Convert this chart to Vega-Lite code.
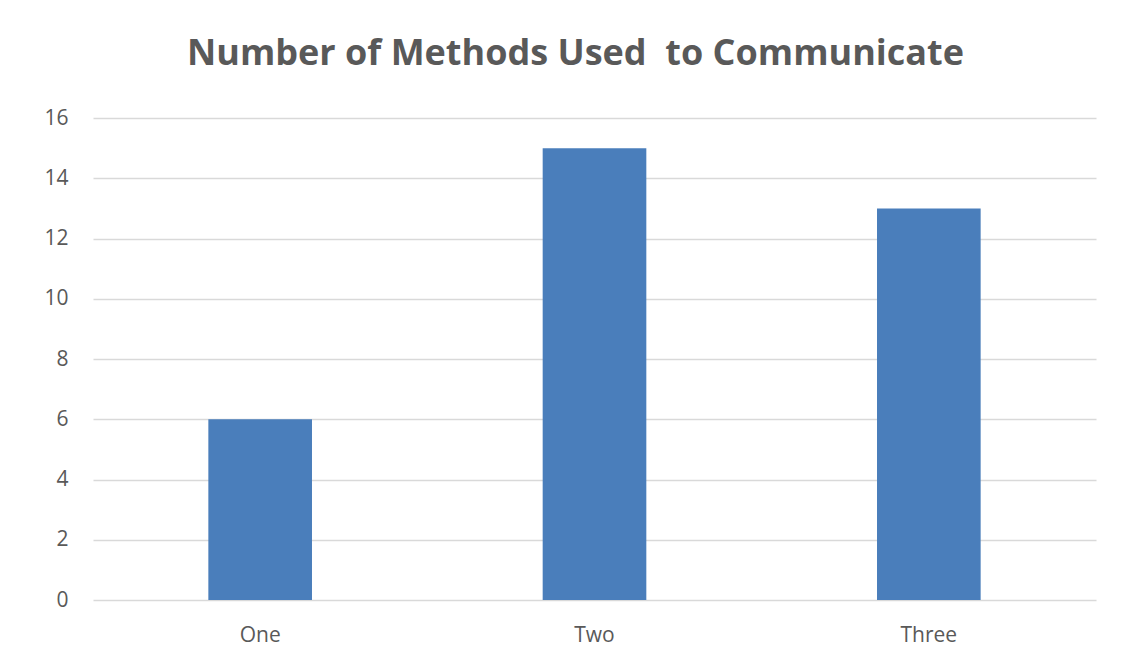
{
  "$schema": "https://vega.github.io/schema/vega-lite/v6.json",
  "width": 1003,
  "height": 482,
  "autosize": {"type": "none"},
  "padding": {"left": 93, "top": 118, "right": 44, "bottom": 65},
  "background": "white",
  "title": {
    "text": "Number of Methods Used \u00a0to Communicate",
    "font": "Open Sans",
    "fontSize": 36,
    "fontWeight": "bold",
    "color": "#595959",
    "anchor": "middle",
    "dx": -19,
    "offset": 34
  },
  "data": {
    "values": [
      {"category": "One", "count": 6},
      {"category": "Two", "count": 15},
      {"category": "Three", "count": 13}
    ]
  },
  "mark": {"type": "bar", "color": "#4a7ebb"},
  "encoding": {
    "x": {
      "field": "category",
      "type": "nominal",
      "sort": ["One", "Two", "Three"],
      "scale": {"paddingInner": 0.69, "paddingOuter": 0.345},
      "axis": {
        "title": null,
        "labelAngle": 0,
        "domain": false,
        "ticks": false,
        "labelFont": "Open Sans",
        "labelFontSize": 21,
        "labelColor": "#595959",
        "labelPadding": 24
      }
    },
    "y": {
      "field": "count",
      "type": "quantitative",
      "scale": {"domain": [0, 16]},
      "axis": {
        "title": null,
        "values": [0, 2, 4, 6, 8, 10, 12, 14, 16],
        "domain": false,
        "ticks": false,
        "grid": true,
        "gridColor": "#d9d9d9",
        "gridWidth": 1.5,
        "labelFont": "Open Sans",
        "labelFontSize": 21,
        "labelColor": "#595959",
        "labelPadding": 25
      }
    }
  },
  "config": {"view": {"stroke": null}}
}
